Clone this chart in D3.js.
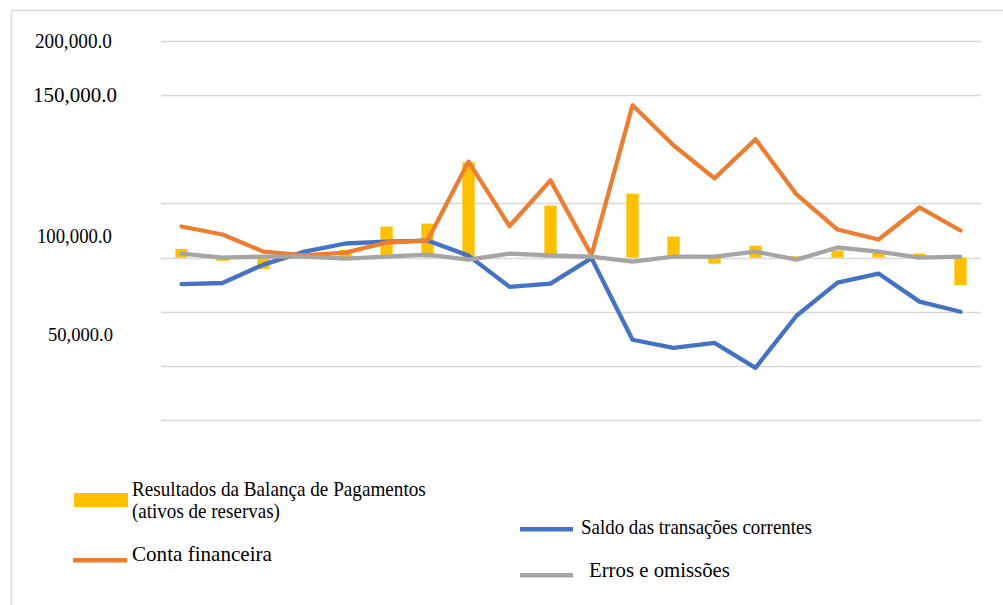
<!DOCTYPE html>
<meta charset="utf-8">
<style>
  body { margin: 0; background: #fff; }
  svg { display: block; }
</style>
<body>
<svg></svg>
<script src="https://cdn.jsdelivr.net/npm/d3@7"></script>
<script>

	// DATA----------------------------------------------------------------
	// 20 periods, no axis labels in the source picture
	var periods = d3.range(1, 21).map(function(i){ return "P" + i; });

	// Resultados da Balança de Pagamentos (ativos de reservas) - bars
	var reservas = [8000, -3000, -10500, 500, 7000, 28600, 31400, 88000, 0, 48000,
	                0, 59000, 19400, -5600, 11000, 1200, 6500, 4600, 3700, -25500];
	// Conta financeira
	var contaFin = [28700, 21300, 5500, 2000, 4600, 13900, 15700, 88600, 29000, 71300,
	                2400, 140700, 103700, 73100, 109300, 58300, 25900, 16700, 46300, 25000];
	// Saldo das transações correntes
	var saldoTC  = [-24500, -23500, -6500, 5500, 13000, 14800, 15700, 1800, -27000, -24000,
	                -500, -75900, -83300, -78700, -101800, -53700, -23100, -14800, -40700, -50000];
	// Erros e omissões
	var erros    = [3700, 0, 900, 900, -900, 900, 2800, -1900, 3700, 1900,
	                900, -3700, 900, 900, 5500, -1900, 9300, 5500, 0, 900];

	// gridline values (the 100,000 line is not drawn in the source)
	var gridValues = [200000, 150000, 50000, 0, -50000, -100000, -150000];
	// tick labels and the value at which each one sits in the picture
	var tickLabels = ["200,000.0", "150,000.0", "100,000.0", "50,000.0"];
	var tickLabelAt = [200000, 150000, 19500, -71000];

	// legend names
	var legendNames = ["Resultados da Balança de Pagamentos", "(ativos de reservas)",
	                   "Conta financeira", "Saldo das transações correntes", "Erros e omissões"];

	// SETUP---------------------------------------------------------------
	var width = 1003, height = 605;
	var svg = d3.select("svg")
			.attr("width", width)
			.attr("height", height);

	var FONT = "'Liberation Serif'";
	var COLORS = { bar: "#FFC000", conta: "#ED7D31", saldo: "#4472C4", erros: "#A5A5A5", grid: "#D9D9D9" };

	var x = d3.scaleBand()
			.domain(periods)
			.range([161, 981])
			.paddingInner(0.7)
			.paddingOuter(0.35);

	var y = d3.scaleLinear()
			.domain([-150000, 200000])
			.range([420, 41]);

	function cx(d, i){ return x(periods[i]) + x.bandwidth()/2; }

	// squeeze a text horizontally so it spans the width seen in the source
	function fitWidth(sel, px, py, w)
	{
		sel.each(function(d, i){
			var t = d3.select(this);
			var len = this.getComputedTextLength();
			var k = len > 0 ? w(d, i) / len : 1;
			t.attr("transform", "translate(" + px(d, i) + "," + py(d, i) + ") scale(" + k + ",1)");
		});
	}

	// outer frame
	svg.append("path")
		.attr("d", "M11.5," + height + "V10.5H" + width)
		.attr("fill", "none")
		.attr("stroke", COLORS.grid)
		.attr("stroke-width", 1.3);

	// GRID----------------------------------------------------------------
	svg.append("g")
		.selectAll("line")
		.data(gridValues)
		.enter()
		.append("line")
		.attr("x1", 161)
		.attr("x2", 981)
		.attr("y1", function(d){ return Math.round(y(d)) + 0.5; })
		.attr("y2", function(d){ return Math.round(y(d)) + 0.5; })
		.attr("stroke", COLORS.grid)
		.attr("stroke-width", 1.3);

	// tick labels (placed where they appear in the source)
	var labelLayout = [
		{ x: 35, w: 77, size: 20 },
		{ x: 33, w: 84, size: 21.5 },
		{ x: 37, w: 75, size: 20 },
		{ x: 48, w: 65, size: 19 }
	];
	var ticks = svg.append("g")
		.selectAll("text")
		.data(tickLabels)
		.enter()
		.append("text")
		.style("font-family", FONT)
		.style("font-size", function(d, i){ return labelLayout[i].size + "px"; })
		.attr("fill", "#000")
		.text(function(d){ return d; });
	fitWidth(ticks,
		function(d, i){ return labelLayout[i].x; },
		function(d, i){ return y(tickLabelAt[i]) + 6.5; },
		function(d, i){ return labelLayout[i].w; });

	// BARS----------------------------------------------------------------
	svg.append("g")
		.selectAll("rect")
		.data(reservas)
		.enter()
		.append("rect")
		.attr("x", function(d, i){ return x(periods[i]); })
		.attr("width", x.bandwidth())
		.attr("y", function(d){ return Math.min(y(d), y(0)); })
		.attr("height", function(d){ return Math.abs(y(d) - y(0)); })
		.attr("fill", COLORS.bar);

	// LINES---------------------------------------------------------------
	var line = d3.line()
			.x(cx)
			.y(function(d){ return y(d); });

	function drawLine(values, color)
	{
		svg.append("path")
			.datum(values)
			.attr("d", line)
			.attr("fill", "none")
			.attr("stroke", color)
			.attr("stroke-width", 4.3)
			.attr("stroke-linejoin", "round")
			.attr("stroke-linecap", "round");
	}

	drawLine(saldoTC, COLORS.saldo);
	drawLine(contaFin, COLORS.conta);
	drawLine(erros, COLORS.erros);

	// LEGEND--------------------------------------------------------------
	var legend = svg.append("g");

	legend.append("rect").attr("x", 74).attr("y", 493).attr("width", 54).attr("height", 14).attr("fill", COLORS.bar);
	legend.append("rect").attr("x", 73).attr("y", 558).attr("width", 54).attr("height", 4.5).attr("fill", COLORS.conta);
	legend.append("rect").attr("x", 520).attr("y", 527).attr("width", 53).attr("height", 4.5).attr("fill", COLORS.saldo);
	legend.append("rect").attr("x", 520).attr("y", 573).attr("width", 53).attr("height", 4.5).attr("fill", COLORS.erros);

	var legendLayout = [
		{ x: 132, y: 496, w: 294 },
		{ x: 132, y: 518, w: 148 },
		{ x: 132, y: 561, w: 140 },
		{ x: 581, y: 534, w: 231 },
		{ x: 589, y: 577, w: 141 }
	];
	var items = legend.selectAll("text")
		.data(legendNames)
		.enter()
		.append("text")
		.style("font-family", FONT)
		.style("font-size", "20px")
		.attr("fill", "#000")
		.text(function(d){ return d; });
	fitWidth(items,
		function(d, i){ return legendLayout[i].x; },
		function(d, i){ return legendLayout[i].y; },
		function(d, i){ return legendLayout[i].w; });

</script>
</body>
</html>
